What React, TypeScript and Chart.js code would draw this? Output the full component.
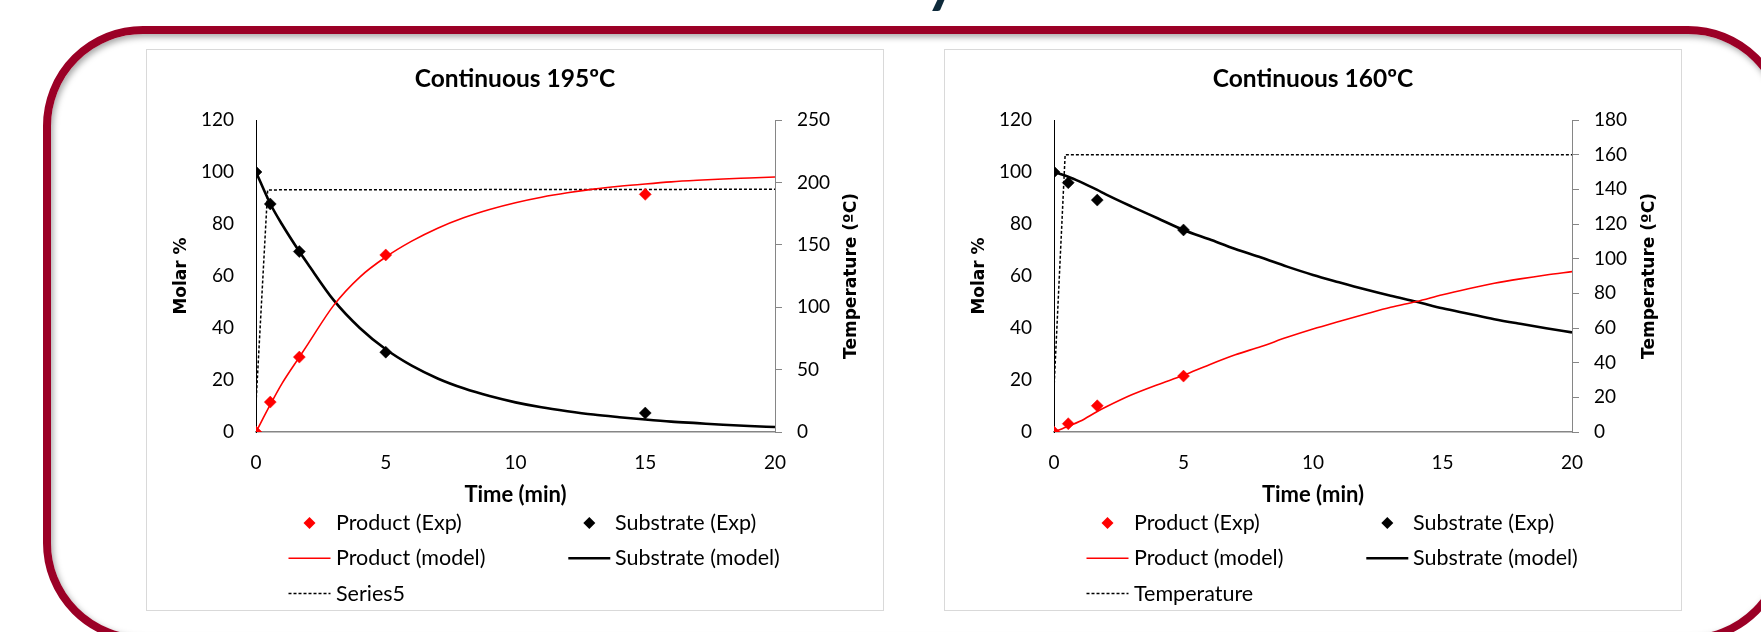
import React, { useEffect, useRef } from "react";
import { Chart, registerables } from "chart.js";

Chart.register(...registerables);

// ---------- Data ----------
const modelTimes = [0, 0.55, 1, 1.67, 2, 3, 4, 5, 6, 7, 8, 9, 10, 11, 12, 13, 14, 15, 16, 17, 18, 19, 20];

// Continuous 195ºC
const expTimes195 = [0, 0.55, 1.67, 5, 15];
const productExp195 = [0, 11.5, 28.8, 68.1, 91.4];
const substrateExp195 = [100, 87.7, 69.4, 30.7, 7.3];
const productModel195 = [0, 10.5, 18.6, 28.8, 33.8, 48.8, 59.6, 67.3, 73.4, 78.4, 82.4, 85.6, 88.2, 90.3, 92.0, 93.4, 94.5, 95.4, 96.2, 96.8, 97.3, 97.7, 98.1];
const substrateModel195 = [100, 87.8, 79.9, 69.4, 64.6, 50.6, 40.0, 31.8, 25.5, 20.6, 16.8, 13.8, 11.4, 9.5, 8.0, 6.7, 5.7, 4.8, 4.0, 3.4, 2.8, 2.3, 1.9];
const tempTimes195 = [0, 0.45, 20];
const temp195 = [23, 194, 194.5];

// Continuous 160ºC
const expTimes160 = [0, 0.55, 1.67, 5];
const productExp160 = [0, 3.2, 10.1, 21.5];
const substrateExp160 = [100, 95.9, 89.2, 77.7];
const productModel160 = [0, 2.2, 4.1, 7.9, 9.6, 14.3, 18.2, 21.8, 25.9, 29.7, 32.9, 36.4, 39.6, 42.5, 45.3, 48, 50.2, 52.8, 55.1, 57.2, 58.9, 60.4, 61.7];
const substrateModel160 = [100, 98.2, 96.3, 93.1, 91.4, 86.7, 82.2, 77.7, 74.1, 70.4, 67.1, 63.6, 60.4, 57.6, 54.9, 52.4, 50.1, 47.6, 45.5, 43.4, 41.6, 39.9, 38.3];
const tempTimes160 = [0, 0.43, 20];
const temp160 = [25, 160, 160];

const xTicks = { min: 0, max: 20, step: 5 };
const yTicks = { min: 0, max: 120, step: 20 };

// ---------- Helpers ----------
const pts = (xs: number[], ys: number[]) => xs.map((x, i) => ({ x, y: ys[i] }));

const TEXT = "#000000";
const AXIS_GRAY = "#868686";
const TICK_FONT = { family: "Lato", size: 19 };

const decorPlugin = {
  id: "decor",
  afterDraw(chart: any, _args: any, opts: any) {
    const { ctx, chartArea } = chart;
    // right axis title, rotated reading bottom-to-top
    ctx.save();
    ctx.translate(opts.rightTitleX, (chartArea.top + chartArea.bottom) / 2);
    ctx.rotate(-Math.PI / 2);
    ctx.font = 'bold 17px "DejaVu Sans"';
    ctx.textAlign = "center";
    ctx.textBaseline = "middle";
    ctx.fillStyle = TEXT;
    ctx.fillText(opts.rightTitle, 0, 0);
    ctx.restore();

    // legend: two columns, rows
    const colSym = [163.5, 443.3];
    const colText = [190, 469];
    const row0 = 474;
    const rowGap = 35.3;
    chart.data.datasets.forEach((ds: any, i: number) => {
      const col = i % 2;
      const row = Math.floor(i / 2);
      const cy = row0 + row * rowGap;
      const cx = colSym[col];
      ctx.save();
      if (!ds.showLine) {
        const r = 6;
        ctx.beginPath();
        ctx.moveTo(cx, cy - r);
        ctx.lineTo(cx + r, cy);
        ctx.lineTo(cx, cy + r);
        ctx.lineTo(cx - r, cy);
        ctx.closePath();
        ctx.fillStyle = ds.backgroundColor;
        ctx.fill();
      } else {
        ctx.beginPath();
        ctx.strokeStyle = ds.borderColor;
        ctx.lineWidth = ds.borderWidth;
        ctx.setLineDash(ds.borderDash || []);
        ctx.moveTo(cx - 21, cy);
        ctx.lineTo(cx + 21, cy);
        ctx.stroke();
      }
      ctx.restore();
      ctx.save();
      ctx.font = '21.5px Lato';
      ctx.fillStyle = TEXT;
      ctx.textAlign = "left";
      ctx.textBaseline = "middle";
      ctx.fillText(ds.label, colText[col], cy);
      ctx.restore();
    });
  },
};

type PanelCfg = {
  title: string;
  expTimes: number[];
  productExp: number[];
  substrateExp: number[];
  productModel: number[];
  substrateModel: number[];
  tempTimes: number[];
  temp: number[];
  tempLabel: string;
  tempMax: number;
  tempStep: number;
  rightAxisWidth: number;
};

function buildConfig(c: PanelCfg): any {
  return {
    type: "scatter",
    data: {
      datasets: [
        {
          label: "Product (Exp)",
          data: pts(c.expTimes, c.productExp),
          showLine: false,
          pointStyle: "rectRot",
          pointRadius: 6,
          backgroundColor: "#FF0000",
          borderColor: "#FF0000",
          pointBorderWidth: 0.5,
          yAxisID: "y",
        },
        {
          label: "Substrate (Exp)",
          data: pts(c.expTimes, c.substrateExp),
          showLine: false,
          pointStyle: "rectRot",
          pointRadius: 6,
          backgroundColor: "#000000",
          borderColor: "#000000",
          pointBorderWidth: 0.5,
          yAxisID: "y",
        },
        {
          label: "Product (model)",
          data: pts(modelTimes, c.productModel),
          showLine: true,
          pointRadius: 0,
          borderColor: "#FF0000",
          backgroundColor: "#FF0000",
          borderWidth: 1.6,
          cubicInterpolationMode: "monotone",
          yAxisID: "y",
        },
        {
          label: "Substrate (model)",
          data: pts(modelTimes, c.substrateModel),
          showLine: true,
          pointRadius: 0,
          borderColor: "#000000",
          backgroundColor: "#000000",
          borderWidth: 2.6,
          cubicInterpolationMode: "monotone",
          yAxisID: "y",
        },
        {
          label: c.tempLabel,
          data: pts(c.tempTimes, c.temp),
          showLine: true,
          pointRadius: 0,
          borderColor: "#000000",
          backgroundColor: "#000000",
          borderWidth: 1.5,
          borderDash: [3, 2],
          yAxisID: "y2",
        },
      ],
    },
    options: {
      responsive: false,
      maintainAspectRatio: false,
      animation: false,
      devicePixelRatio: 1,
      events: [],
      layout: { padding: 0 },
      plugins: {
        legend: { display: false },
        tooltip: { enabled: false },
        title: {
          display: true,
          text: c.title,
          color: TEXT,
          font: { family: "Lato", weight: "bold", size: 24.5 },
          padding: { top: 15.8, bottom: 25.8 },
        },
        decor: { rightTitle: "Temperature (ºC)", rightTitleX: 706 },
      },
      scales: {
        x: {
          type: "linear",
          position: "bottom",
          min: xTicks.min,
          max: xTicks.max,
          ticks: { stepSize: xTicks.step, padding: 19, color: TEXT, font: TICK_FONT },
          grid: { display: false, drawTicks: false },
          border: { display: true, color: AXIS_GRAY, width: 1.5 },
          title: {
            display: true,
            text: "Time (min)",
            color: TEXT,
            font: { family: "Lato", weight: "bold", size: 22 },
            padding: { top: 0, bottom: 103 },
          },
          afterFit: (a: any) => {
            a.height = 179;
          },
        },
        y: {
          type: "linear",
          position: "left",
          min: yTicks.min,
          max: yTicks.max,
          ticks: { stepSize: yTicks.step, padding: 22, color: TEXT, font: TICK_FONT },
          grid: { display: false, drawTicks: false },
          border: { display: true, color: "#000000", width: 1 },
          title: {
            display: true,
            text: "Molar %",
            color: TEXT,
            font: { family: "DejaVu Sans", weight: "bold", size: 17 },
            padding: { top: 25, bottom: 0 },
          },
          afterFit: (a: any) => {
            a.width = 110;
          },
        },
        y2: {
          type: "linear",
          position: "right",
          min: 0,
          max: c.tempMax,
          ticks: { stepSize: c.tempStep, padding: 15, color: TEXT, font: TICK_FONT },
          grid: { display: true, drawOnChartArea: false, drawTicks: true, tickLength: 7, color: AXIS_GRAY },
          border: { display: true, color: AXIS_GRAY, width: 1 },
          afterFit: (a: any) => {
            a.width = c.rightAxisWidth;
          },
        },
      },
    },
    plugins: [decorPlugin],
  };
}

function ChartPanel({ cfg, left }: { cfg: PanelCfg; left: number }) {
  const ref = useRef<HTMLCanvasElement>(null);
  useEffect(() => {
    const chart = new Chart(ref.current as HTMLCanvasElement, buildConfig(cfg));
    return () => chart.destroy();
  }, [cfg]);
  return (
    <div
      style={{
        position: "absolute",
        left,
        top: 49,
        width: 738,
        height: 562,
        background: "#fff",
        boxShadow: "inset 0 0 0 1px #d9d9d9",
      }}
    >
      <canvas ref={ref} width={738} height={562} style={{ position: "absolute", left: 0, top: 0 }} />
    </div>
  );
}

const cfg195: PanelCfg = {
  title: "Continuous 195ºC",
  expTimes: expTimes195,
  productExp: productExp195,
  substrateExp: substrateExp195,
  productModel: productModel195,
  substrateModel: substrateModel195,
  tempTimes: tempTimes195,
  temp: temp195,
  tempLabel: "Series5",
  tempMax: 250,
  tempStep: 50,
  rightAxisWidth: 109,
};

const cfg160: PanelCfg = {
  title: "Continuous 160ºC",
  expTimes: expTimes160,
  productExp: productExp160,
  substrateExp: substrateExp160,
  productModel: productModel160,
  substrateModel: substrateModel160,
  tempTimes: tempTimes160,
  temp: temp160,
  tempLabel: "Temperature",
  tempMax: 180,
  tempStep: 20,
  rightAxisWidth: 110,
};

export default function App() {
  return (
    <div
      style={{
        position: "absolute",
        left: 0,
        top: 0,
        width: 1761,
        height: 632,
        overflow: "hidden",
        background: "#fff",
      }}
    >
      <div
        style={{
          position: "absolute",
          left: 926,
          top: -47,
          fontFamily: "Lato",
          fontWeight: 900,
          fontSize: 56,
          lineHeight: "56px",
          color: "#0E2A3B",
        }}
      >
        y
      </div>
      <div
        style={{
          position: "absolute",
          left: 43,
          top: 26,
          width: 1745,
          height: 617,
          boxSizing: "border-box",
          border: "8px solid #9B0026",
          borderRadius: 100,
          boxShadow: "inset 2px 3px 6px rgba(0,0,0,0.35)",
        }}
      />
      <ChartPanel cfg={cfg195} left={146} />
      <ChartPanel cfg={cfg160} left={944} />
    </div>
  );
}
